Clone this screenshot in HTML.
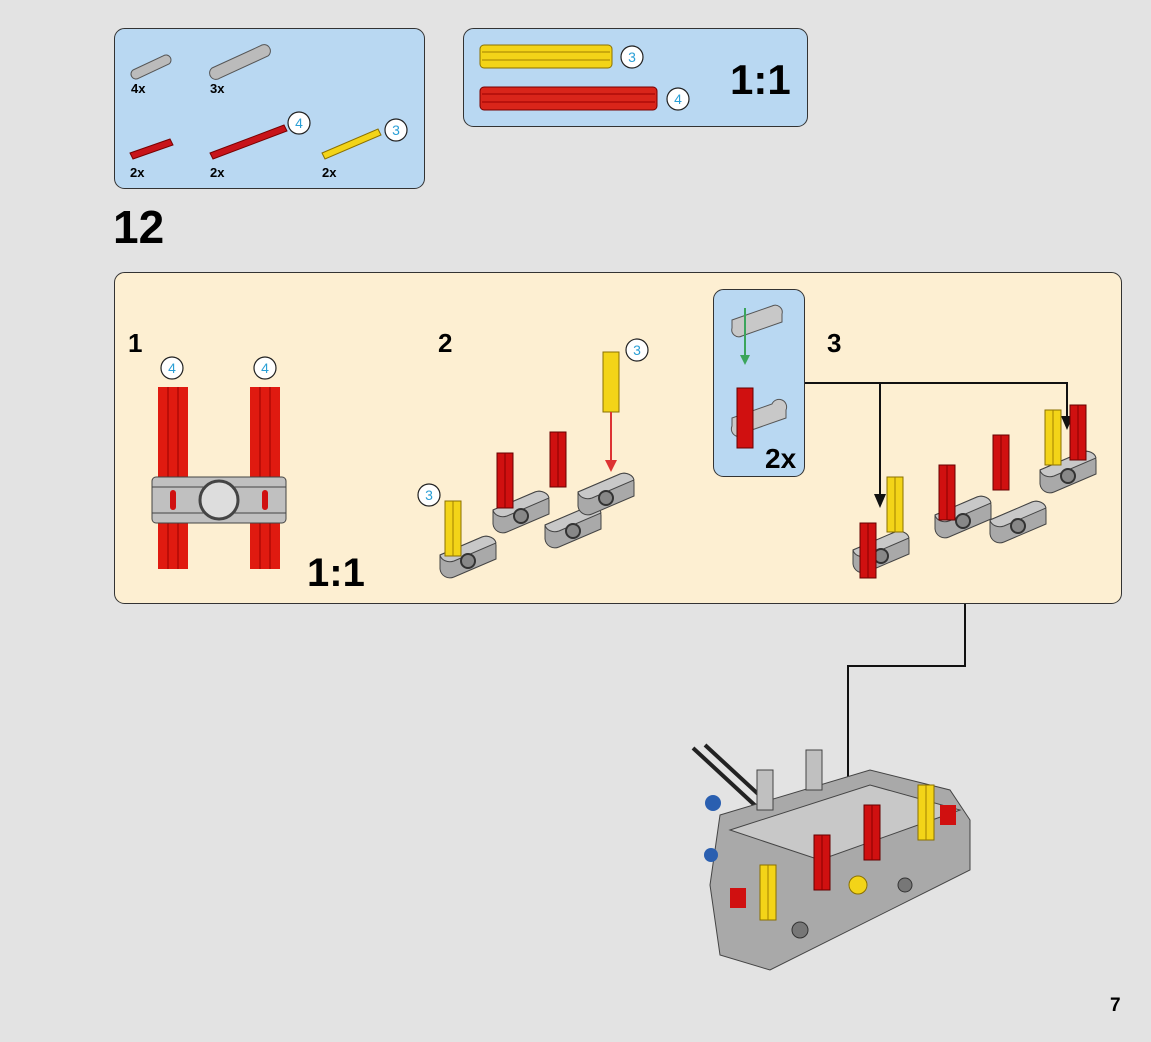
<!DOCTYPE html>
<html><head><style>
body{margin:0;width:1151px;height:1037px;background:#e3e3e3;overflow:hidden}
svg text{font-family:"Liberation Sans",Arial,sans-serif}
</style></head><body>
<svg width="1151" height="1037" viewBox="0 0 1151 1037" xmlns="http://www.w3.org/2000/svg">
<defs>
<g id="c3"><circle r="11" fill="#fff" stroke="#222" stroke-width="1.2"/><text y="5" text-anchor="middle" font-size="14" fill="#2a9fd6">3</text></g>
<g id="c4"><circle r="11" fill="#fff" stroke="#222" stroke-width="1.2"/><text y="5" text-anchor="middle" font-size="14" fill="#2a9fd6">4</text></g>
<g id="beam"><path d="M0,0 l42,-18 a10,10 0 0 1 14,8 l0,14 l-42,18 a10,10 0 0 1 -14,-8z" fill="#a9a9a9" stroke="#444"/><path d="M0,0 l42,-18 a10,8 0 0 1 14,6 l-42,18 a10,8 0 0 1 -14,-6z" fill="#c8c8c8" stroke="#444"/><circle cx="28" cy="6" r="7" fill="#888" stroke="#333" stroke-width="2"/></g>
<g id="rax"><rect x="-8" y="-55" width="16" height="55" fill="#d01010" stroke="#600"/><line x1="0" y1="-55" x2="0" y2="0" stroke="#800"/></g>
<g id="yax"><rect x="-8" y="-55" width="16" height="55" fill="#f3d418" stroke="#8a7000"/><line x1="0" y1="-55" x2="0" y2="0" stroke="#a08000"/></g>
</defs>

<!-- parts box -->
<rect x="114.5" y="28.5" width="310" height="160" rx="10" fill="#b9d8f2" stroke="#333"/>
<path d="M133,70 l30,-14 a5,5 0 0 1 6,8 l-30,14 a5,5 0 0 1 -6,-8z" fill="#bbb" stroke="#555"/>
<path d="M212,68 l48,-22 a6,6 0 0 1 8,10 l-48,22 a6,6 0 0 1 -8,-10z" fill="#bbb" stroke="#555"/>
<text x="131" y="93" font-size="13" font-weight="bold">4x</text>
<text x="210" y="93" font-size="13" font-weight="bold">3x</text>
<path d="M130,153 l40,-14 l3,6 l-40,14z" fill="#c8141a" stroke="#700"/>
<path d="M210,153 l74,-28 l3,6 l-74,28z" fill="#c8141a" stroke="#700"/>
<path d="M322,153 l56,-24 l3,6 l-56,24z" fill="#f3d418" stroke="#8a7000"/>
<use href="#c4" x="299" y="123"/><use href="#c3" x="396" y="130"/>
<text x="130" y="177" font-size="13" font-weight="bold">2x</text>
<text x="210" y="177" font-size="13" font-weight="bold">2x</text>
<text x="322" y="177" font-size="13" font-weight="bold">2x</text>

<rect x="463.5" y="28.5" width="344" height="98" rx="10" fill="#b9d8f2" stroke="#333"/>
<rect x="480" y="45" width="132" height="23" rx="4" fill="#f3d418" stroke="#8a7000"/>
<line x1="482" y1="52" x2="610" y2="52" stroke="#a08000"/><line x1="482" y1="60" x2="610" y2="60" stroke="#a08000"/>
<rect x="480" y="87" width="177" height="23" rx="4" fill="#d9251a" stroke="#700"/>
<line x1="482" y1="94" x2="655" y2="94" stroke="#900"/><line x1="482" y1="102" x2="655" y2="102" stroke="#900"/>
<use href="#c3" x="632" y="57"/><use href="#c4" x="678" y="99"/>
<text x="730" y="94" font-size="42" font-weight="bold">1:1</text>

<text x="113" y="243" font-size="46" font-weight="bold">12</text>

<!-- main panel -->
<rect x="114.5" y="272.5" width="1007" height="331" rx="10" fill="#fdefd2" stroke="#333"/>
<text x="128" y="352" font-size="26" font-weight="bold">1</text>
<text x="438" y="352" font-size="26" font-weight="bold">2</text>
<text x="827" y="352" font-size="26" font-weight="bold">3</text>

<!-- step1 -->
<use href="#c4" x="172" y="368"/><use href="#c4" x="265" y="368"/>
<rect x="158" y="387" width="30" height="182" fill="#e01a10"/>
<line x1="168" y1="387" x2="168" y2="569" stroke="#900"/><line x1="178" y1="387" x2="178" y2="569" stroke="#900"/>
<rect x="250" y="387" width="30" height="182" fill="#e01a10"/>
<line x1="260" y1="387" x2="260" y2="569" stroke="#900"/><line x1="270" y1="387" x2="270" y2="569" stroke="#900"/>
<rect x="152" y="477" width="134" height="46" rx="4" fill="#c0c0c0" stroke="#444"/>
<line x1="152" y1="487" x2="286" y2="487" stroke="#444"/><line x1="152" y1="513" x2="286" y2="513" stroke="#444"/>
<circle cx="219" cy="500" r="19" fill="#ddd" stroke="#444" stroke-width="3"/>
<rect x="170" y="490" width="6" height="20" rx="3" fill="#d01010"/><rect x="262" y="490" width="6" height="20" rx="3" fill="#d01010"/>
<text x="307" y="586" font-size="40" font-weight="bold">1:1</text>

<!-- step2 -->
<use href="#beam" x="440" y="555"/><use href="#beam" x="493" y="510"/><use href="#beam" x="545" y="525"/><use href="#beam" x="578" y="492"/>
<use href="#yax" x="453" y="556"/><use href="#rax" x="505" y="508"/><use href="#rax" x="558" y="487"/>
<use href="#yax" x="611" y="410" transform="translate(0,0)"/>
<rect x="603" y="352" width="16" height="60" fill="#f3d418" stroke="#8a7000"/>
<line x1="611" y1="412" x2="611" y2="468" stroke="#d33" stroke-width="2"/><path d="M605,460 l6,12 l6,-12z" fill="#d33"/>
<use href="#c3" x="637" y="350"/><use href="#c3" x="429" y="495"/>

<!-- step3 sub-box -->
<rect x="713.5" y="289.5" width="91" height="187" rx="10" fill="#b9d8f2" stroke="#333"/>
<path d="M732,320 l40,-14 a7,7 0 0 1 10,8 l0,8 l-40,14 a7,7 0 0 1 -10,-8z" fill="#c8c8c8" stroke="#555"/>
<line x1="745" y1="308" x2="745" y2="362" stroke="#3ba55c" stroke-width="2"/><path d="M740,355 l5,10 l5,-10z" fill="#3ba55c"/>
<path d="M732,418 l40,-14 a7,7 0 0 1 14,6 l0,8 l-40,14 a7,7 0 0 1 -14,-6z" fill="#c8c8c8" stroke="#555"/>
<rect x="737" y="388" width="16" height="60" fill="#d01010" stroke="#600"/>
<text x="765" y="468" font-size="28" font-weight="bold">2x</text>
<!-- connectors -->
<polyline points="805,383 1067,383 1067,420" fill="none" stroke="#111" stroke-width="2"/>
<path d="M1061,416 l6,14 l6,-14z" fill="#111"/>
<line x1="880" y1="383" x2="880" y2="498" stroke="#111" stroke-width="2"/>
<path d="M874,494 l6,14 l6,-14z" fill="#111"/>
<!-- step3 assembly -->
<use href="#beam" x="853" y="550"/><use href="#beam" x="935" y="515"/><use href="#beam" x="990" y="520"/><use href="#beam" x="1040" y="470"/>
<use href="#rax" x="868" y="578"/><use href="#yax" x="895" y="532"/><use href="#rax" x="947" y="520"/><use href="#rax" x="1001" y="490"/><use href="#yax" x="1053" y="465"/><use href="#rax" x="1078" y="460"/>

<!-- bottom connector -->
<polyline points="965,604 965,666 848,666 848,830" fill="none" stroke="#111" stroke-width="2"/>
<path d="M842,826 l6,14 l6,-14z" fill="#111"/>

<!-- final model -->
<g>
<line x1="693" y1="748" x2="760" y2="810" stroke="#222" stroke-width="4"/><line x1="705" y1="745" x2="770" y2="805" stroke="#222" stroke-width="4"/>
<path d="M720,815 l150,-45 l80,20 l20,30 l0,50 l-200,100 l-50,-15 l-10,-70z" fill="#a9a9a9" stroke="#444"/>
<path d="M730,830 l140,-45 l90,25 l-140,50z" fill="#c8c8c8" stroke="#444"/>
<circle cx="713" cy="803" r="8" fill="#2a5fb0"/><circle cx="711" cy="855" r="7" fill="#2a5fb0"/>
<rect x="806" y="750" width="16" height="40" fill="#c0c0c0" stroke="#444"/><rect x="757" y="770" width="16" height="40" fill="#c0c0c0" stroke="#444"/>
<use href="#rax" x="822" y="890"/><use href="#rax" x="872" y="860"/><use href="#yax" x="768" y="920"/><use href="#yax" x="926" y="840"/>
<rect x="940" y="805" width="16" height="20" fill="#d01010"/><rect x="730" y="888" width="16" height="20" fill="#d01010"/>
<circle cx="858" cy="885" r="9" fill="#f3d418" stroke="#8a7000"/><circle cx="800" cy="930" r="8" fill="#777" stroke="#333"/>
<circle cx="905" cy="885" r="7" fill="#777" stroke="#333"/>
</g>
<text x="1110" y="1011" font-size="19" font-weight="bold">7</text>
</svg>
</body></html>
